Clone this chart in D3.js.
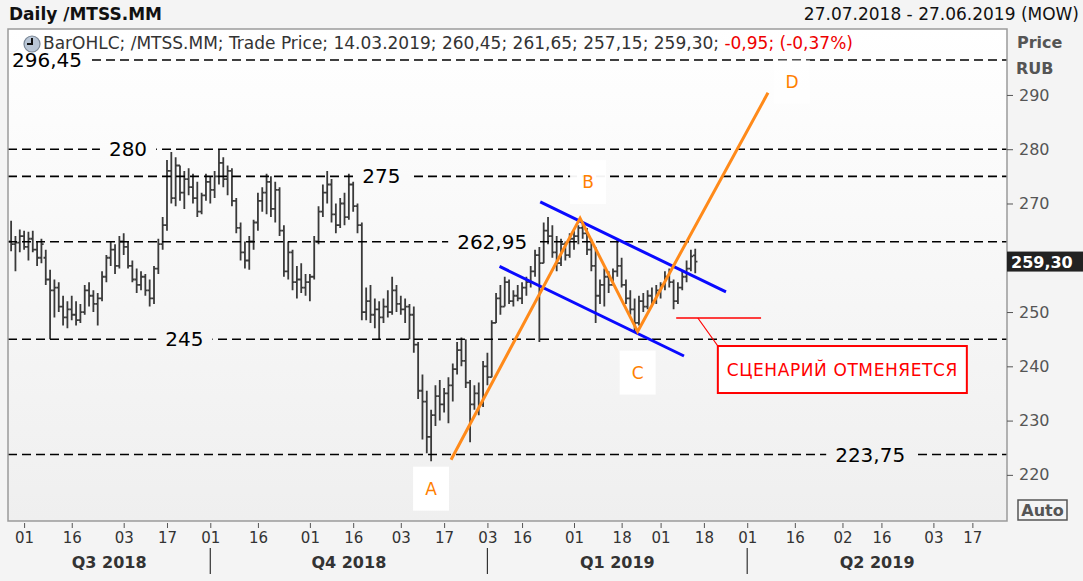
<!DOCTYPE html>
<html>
<head>
<meta charset="utf-8">
<script src="https://cdn.jsdelivr.net/npm/d3@7"></script>
<style>
body { margin: 0; background: #f4f4f4; }
svg { display: block; font-family: "DejaVu Sans", sans-serif; }
</style>
</head>
<body>
<div id="container"></div>
<script>
const START = "2018-07-27", END = "2019-06-27";
const HOLIDAYS = ["2018-11-05","2018-12-31","2019-01-01","2019-01-02","2019-01-07",
		  "2019-03-08","2019-05-01","2019-05-09","2019-06-12"];

// daily bars, one per trading day from 27.07.2018 to 14.03.2019
const OPEN = [263.0,262.5,262.8,264.0,262.0,263.5,261.5,260.0,260.0,256.0,
	254.0,254.5,251.0,249.0,250.5,249.5,248.5,250.0,254.0,253.0,
	251.5,252.5,256.5,260.0,261.5,258.5,263.0,262.0,258.5,256.0,
	255.0,256.5,254.0,252.5,258.0,262.5,266.0,276.0,271.0,277.0,
	272.0,274.5,273.0,271.0,268.5,271.5,274.0,272.5,275.0,277.5,
	274.5,276.0,270.5,265.5,261.0,259.5,263.0,266.5,270.5,272.0,
	274.0,269.0,272.5,265.0,257.5,261.0,255.5,256.0,254.5,255.5,
	256.5,263.0,268.5,272.0,273.5,268.0,266.0,270.0,267.5,273.5,
	269.5,266.0,250.0,252.0,249.5,250.5,249.0,251.0,250.0,254.0,
	251.5,250.5,251.0,249.5,244.0,235.5,233.5,227.0,231.0,234.5,
	233.0,235.0,236.5,239.5,243.0,241.0,237.0,233.0,235.0,233.0,
	240.0,238.0,248.0,252.5,251.0,255.5,252.0,253.0,252.5,254.5,
	255.5,257.5,260.5,259.0,265.0,264.0,261.0,259.0,262.5,260.5,
	263.5,264.0,265.5,264.5,261.5,258.5,253.0,255.0,256.5,255.0,
	257.5,258.5,255.0,252.5,250.5,248.0,252.0,251.0,253.0,252.0,
	254.0,255.0,256.5,255.5,252.0,254.5,256.5,258.0,260.45];
const HIGH = [266.8,264.0,265.2,265.0,264.8,265.0,263.0,263.5,261.5,257.8,
	256.0,255.5,253.0,252.0,253.0,252.0,251.5,255.0,255.5,254.0,
	253.5,257.5,260.5,263.0,262.5,264.0,264.5,263.0,259.5,258.0,
	257.5,257.0,256.0,258.5,263.5,267.5,278.0,279.5,278.5,277.0,
	276.0,276.5,275.5,274.0,272.0,275.5,275.0,276.0,280.0,278.5,
	277.0,276.5,271.0,266.5,263.0,264.0,267.0,272.0,273.0,275.5,
	275.0,274.0,273.0,266.0,263.0,261.5,258.5,259.0,257.0,257.0,
	264.0,269.5,273.5,276.0,274.5,270.0,271.0,272.0,275.5,274.0,
	270.0,266.5,254.5,255.0,252.5,252.0,252.5,254.0,256.5,255.0,
	253.0,252.5,251.5,251.0,244.5,238.5,235.5,232.0,236.5,237.5,
	236.0,238.0,240.5,244.5,245.3,245.0,237.5,236.5,237.0,241.0,
	242.5,248.5,253.5,255.0,256.5,256.0,254.0,255.0,255.5,256.5,
	258.5,261.5,262.0,266.5,267.5,266.0,264.0,263.5,263.0,264.5,
	265.0,266.0,266.5,265.5,263.5,262.0,256.0,258.0,257.5,258.0,
	263.5,260.0,256.0,254.0,252.5,253.0,253.5,254.0,254.5,255.0,
	255.5,257.5,258.0,256.0,255.5,257.5,259.5,261.5,261.65];
const LOW = [261.2,257.5,261.0,261.5,259.5,261.0,258.5,259.0,255.0,245.0,
	249.0,250.0,247.5,247.0,248.5,247.5,248.0,249.5,251.0,250.0,
	247.5,252.0,255.5,258.5,257.0,258.0,260.5,258.0,255.5,253.5,
	254.0,253.0,251.0,251.5,257.0,261.5,265.0,270.0,269.5,270.5,
	269.0,271.5,270.0,267.5,268.0,270.5,270.0,271.0,273.5,273.0,
	271.5,269.5,264.5,259.5,258.0,257.8,261.5,265.0,268.5,268.0,
	267.5,266.5,264.0,256.5,256.0,254.0,252.5,253.5,253.0,252.0,
	256.0,262.5,267.5,270.0,266.5,264.5,265.5,266.0,267.0,268.5,
	264.5,248.5,248.5,248.0,247.0,245.0,248.0,249.0,249.5,250.0,
	249.5,248.0,245.0,242.5,234.0,226.5,224.0,222.5,229.0,230.0,
	231.5,229.5,233.5,238.5,240.0,236.0,226.0,232.0,231.0,232.5,
	236.5,238.0,248.0,249.5,251.0,251.5,251.0,252.0,251.5,253.0,
	254.5,256.5,244.5,259.0,262.5,260.0,257.5,258.5,259.5,260.0,
	261.5,262.5,263.5,260.5,257.5,248.0,251.5,251.0,253.5,255.0,
	256.5,254.5,251.5,249.5,246.5,247.5,250.0,250.5,251.0,251.5,
	252.5,254.0,254.5,250.5,251.5,254.0,255.5,257.5,257.15];
const CLOSE = [262.5,262.8,264.0,262.0,263.5,261.5,260.0,262.5,256.0,254.0,
	254.5,251.0,249.0,250.5,249.5,248.5,250.0,254.0,253.0,251.5,
	252.5,256.5,260.0,261.5,258.5,263.0,262.0,258.5,256.0,255.0,
	256.5,254.0,252.5,258.0,262.5,266.0,276.0,271.0,277.0,272.0,
	274.5,273.0,271.0,268.5,271.5,274.0,272.5,275.0,277.5,274.5,
	276.0,270.5,265.5,261.0,259.5,263.0,266.5,270.5,272.0,274.0,
	269.0,272.5,265.0,257.5,261.0,255.5,256.0,254.5,255.5,256.5,
	263.0,268.5,272.0,273.5,268.0,266.0,270.0,267.5,273.5,269.5,
	266.0,250.0,252.0,249.5,250.5,249.0,251.0,250.0,254.0,251.5,
	250.5,251.0,249.5,244.0,235.5,233.5,227.0,231.0,234.5,233.0,
	235.0,236.5,239.5,243.0,241.0,237.0,233.0,235.0,233.0,240.0,
	238.0,248.0,252.5,251.0,255.5,252.0,253.0,252.5,254.5,255.5,
	257.5,260.5,259.0,265.0,264.0,261.0,259.0,262.5,260.5,263.5,
	264.0,265.5,264.5,261.5,258.5,253.0,255.0,256.5,255.0,257.5,
	258.5,255.0,252.5,250.5,248.0,252.0,251.0,253.0,252.0,254.0,
	255.0,256.5,255.5,252.0,254.5,256.5,258.0,260.25,259.30];

const LEVELS = [296.45, 280, 275, 262.95, 245, 223.75];
const LEVEL_TEXT = ["296,45", "280", "275", "262,95", "245", "223,75"];
const LEVEL_AT = [0, 27, 85.5, 111.1, 40, 198.4];   // trading-day index of label centre

const WAVE_NAMES = ["A", "B", "C", "D"];
const WAVE_AT = [101.6, 131.4, 144.7, 174.8];
const WAVE_PRICE = [222.8, 267.3, 246.4, 290.4];

const CH_UP_AT = [122.2, 165.1], CH_UP_PRICE = [270.3, 253.7];
const CH_DN_AT = [112.8, 155.4], CH_DN_PRICE = [258.4, 241.9];

const STOP_PRICE = 248.9, STOP_AT = [153.6, 173.2], STOP_LEAD = 158.6;
const STOP_TEXT = "СЦЕНАРИЙ ОТМЕНЯЕТСЯ";

// 260 sits under the last-price marker, so it is not labelled
const Y_TICKS = [220, 230, 240, 250, 270, 280, 290];
const X_TICKS = ["2018-08-01","2018-08-16","2018-09-03","2018-09-17","2018-10-01","2018-10-16",
		 "2018-11-01","2018-11-16","2018-12-03","2018-12-17","2019-01-03","2019-01-16",
		 "2019-02-01","2019-02-18","2019-03-01","2019-03-18","2019-04-01","2019-04-16",
		 "2019-05-02","2019-05-16","2019-06-03","2019-06-17"];
const QUARTERS = ["Q3 2018", "Q4 2018", "Q1 2019", "Q2 2019"];
const QUARTER_STARTS = ["2018-10-01", "2019-01-03", "2019-04-01"];

var W = 1083, H = 581;
var L = 8, R = 1007, T = 29, B = 521;

var parse = d3.utcParse("%Y-%m-%d");
var fmt = d3.utcFormat("%Y-%m-%d");

var days = d3.utcDay.range(parse(START), d3.utcDay.offset(parse(END), 1))
    .filter(function(d){
	return d.getUTCDay() % 6 !== 0 && HOLIDAYS.indexOf(fmt(d)) < 0;
    });
var dayIndex = new Map(days.map(function(d, i){ return [fmt(d), i]; }));

var x = d3.scaleLinear().domain([-0.72, days.length - 1]).range([L, R]);
var y = d3.scaleLinear().domain([211.5, 302.15]).range([B, T]);
var bgAt = function(py){ return d3.interpolateRgb("#ffffff", "#efefef")((py - T) / (B - T)); };

var svg = d3.select("#container").append("svg")
    .attr("width", W).attr("height", H);

var defs = svg.append("defs");
var grad = defs.append("linearGradient").attr("id", "bg")
    .attr("x1", 0).attr("y1", 0).attr("x2", 0).attr("y2", 1);
grad.append("stop").attr("offset", 0).attr("stop-color", "#ffffff");
grad.append("stop").attr("offset", 1).attr("stop-color", "#efefef");
defs.append("clipPath").attr("id", "clip")
    .append("rect").attr("x", L).attr("y", T).attr("width", R - L).attr("height", B - T);

svg.append("rect").attr("width", W).attr("height", H).attr("fill", "#f4f4f4");
svg.append("rect").attr("x", L).attr("y", T).attr("width", R - L).attr("height", B - T)
    .attr("fill", "url(#bg)");

var plot = svg.append("g").attr("clip-path", "url(#clip)");

// bars
var bars = OPEN.map(function(o, i){
    return { i: i, o: o, h: HIGH[i], l: LOW[i], c: CLOSE[i] };
});
plot.append("g").selectAll("path")
    .data(bars)
    .enter()
    .append("path")
    .attr("d", function(d){
	var px = x(d.i);
	return "M" + px + "," + y(d.h) + "V" + y(d.l)
	    + "M" + (px - 2.2) + "," + y(d.o) + "H" + px
	    + "M" + px + "," + y(d.c) + "H" + (px + 2.2);
    })
    .attr("fill", "none")
    .attr("stroke", "#3a3a3a")
    .attr("stroke-width", 1.8);

// dashed levels
plot.append("g").selectAll("line")
    .data(LEVELS)
    .enter()
    .append("line")
    .attr("x1", L).attr("x2", R)
    .attr("y1", function(v){ return y(v); })
    .attr("y2", function(v){ return y(v); })
    .attr("stroke", "#000")
    .attr("stroke-width", 1.6)
    .attr("stroke-dasharray", "9,5");

var lvl = plot.append("g").selectAll("g")
    .data(LEVELS)
    .enter()
    .append("g");
lvl.append("rect");
lvl.append("text")
    .attr("x", function(v, i){ return i === 0 ? L + 4 : x(LEVEL_AT[i]); })
    .attr("y", function(v){ return y(v) + 7; })
    .attr("text-anchor", function(v, i){ return i === 0 ? "start" : "middle"; })
    .attr("font-size", 20)
    .attr("fill", "#000")
    .text(function(v, i){ return LEVEL_TEXT[i]; });
lvl.each(function(v){
    var g = d3.select(this);
    var bb = g.select("text").node().getBBox();
    g.select("rect")
	.attr("x", bb.x - 9).attr("width", bb.width + 18)
	.attr("y", y(v) - 3).attr("height", 6)
	.attr("fill", bgAt(y(v)));
});

// channel
var line = d3.line().x(function(d){ return x(d[0]); }).y(function(d){ return y(d[1]); });
[[CH_UP_AT, CH_UP_PRICE], [CH_DN_AT, CH_DN_PRICE]].forEach(function(c){
    plot.append("path")
	.attr("d", line(d3.zip(c[0], c[1])))
	.attr("stroke", "#0a0aff")
	.attr("stroke-width", 3)
	.attr("fill", "none");
});

// wave A-B-C-D
plot.append("path")
    .attr("d", line(d3.zip(WAVE_AT, WAVE_PRICE)))
    .attr("stroke", "#ff8a1a")
    .attr("stroke-width", 3)
    .attr("fill", "none");

var OFFS = [[-20, 29], [8, -36], [0, 41], [24, -11]];
var wl = plot.append("g").selectAll("g")
    .data(WAVE_NAMES)
    .enter()
    .append("g")
    .attr("transform", function(n, i){
	return "translate(" + (x(WAVE_AT[i]) + OFFS[i][0]) + "," + (y(WAVE_PRICE[i]) + OFFS[i][1]) + ")";
    });
wl.append("rect")
    .attr("x", -18).attr("y", -22).attr("width", 36).attr("height", 44)
    .attr("fill", "#ffffff").attr("opacity", function(n, i){ return i === 3 ? 0.5 : 0.95; });
wl.append("text")
    .attr("text-anchor", "middle").attr("y", 6)
    .attr("font-size", 17).attr("fill", "#ff8000")
    .text(function(n){ return n; });

// invalidation note
var sy = y(STOP_PRICE);
plot.append("line")
    .attr("x1", x(STOP_AT[0])).attr("x2", x(STOP_AT[1]))
    .attr("y1", sy).attr("y2", sy)
    .attr("stroke", "#ff0000").attr("stroke-width", 1.5);
var bx = x(STOP_LEAD) + 20, by = sy + 28;
plot.append("line")
    .attr("x1", x(STOP_LEAD)).attr("y1", sy).attr("x2", bx).attr("y2", by)
    .attr("stroke", "#ff0000").attr("stroke-width", 1.2);
plot.append("rect")
    .attr("x", bx).attr("y", by).attr("width", 249).attr("height", 47)
    .attr("fill", "#ffffff").attr("stroke", "#ff0000").attr("stroke-width", 2);
plot.append("text")
    .attr("x", bx + 124.5).attr("y", by + 30)
    .attr("text-anchor", "middle")
    .attr("font-size", 17).attr("letter-spacing", 0.6)
    .attr("fill", "#ff0000")
    .text(STOP_TEXT);

// legend line
var leg = svg.append("g");
leg.append("circle").attr("cx", 32).attr("cy", 44).attr("r", 8)
    .attr("fill", "#b9c6d6").attr("stroke", "#7a8796").attr("stroke-width", 1.2);
leg.append("path").attr("d", "M32,38V44H27").attr("stroke", "#111").attr("stroke-width", 2).attr("fill", "none");
var lt = leg.append("text").attr("x", 43).attr("y", 49).attr("font-size", 17).attr("fill", "#333");
lt.append("tspan").text("BarOHLC; /MTSS.MM; Trade Price; 14.03.2019; 260,45; 261,65; 257,15; 259,30; ");
lt.append("tspan").attr("fill", "#ee0000").text("-0,95; (-0,37%)");

// frame
svg.append("rect").attr("x", L).attr("y", T).attr("width", R - L).attr("height", B - T)
    .attr("fill", "none").attr("stroke", "#9a9a9a").attr("stroke-width", 1.5);

// header
svg.append("text").attr("x", 9).attr("y", 20)
    .attr("font-size", 17).attr("font-weight", "bold").attr("fill", "#111")
    .text("Daily /MTSS.MM");
svg.append("text").attr("x", 1079).attr("y", 20).attr("text-anchor", "end")
    .attr("font-size", 17).attr("fill", "#111")
    .text("27.07.2018 - 27.06.2019 (MOW)");

// right axis
var ya = svg.append("g").attr("transform", "translate(" + R + ",0)")
    .call(d3.axisRight(y).tickValues(Y_TICKS).tickSize(6).tickPadding(6));
ya.select(".domain").remove();
ya.selectAll("line").attr("stroke", "#555");
ya.selectAll("text").attr("font-size", 16).attr("fill", "#555").attr("font-family", "DejaVu Sans");

svg.append("text").attr("x", 1017).attr("y", 48).attr("font-size", 16).attr("font-weight", "bold")
    .attr("fill", "#555").text("Price");
svg.append("text").attr("x", 1016).attr("y", 74).attr("font-size", 16).attr("font-weight", "bold")
    .attr("fill", "#555").text("RUB");

var last = CLOSE[CLOSE.length - 1];
svg.append("rect").attr("x", R).attr("y", y(last) - 10).attr("width", W - R).attr("height", 20)
    .attr("fill", "#222");
svg.append("text").attr("x", R + 4).attr("y", y(last) + 6)
    .attr("font-size", 16).attr("font-weight", "bold").attr("fill", "#fff")
    .text(d3.format(".2f")(last).replace(".", ","));

svg.append("rect").attr("x", 1018).attr("y", 500).attr("width", 49).attr("height", 20)
    .attr("fill", "none").attr("stroke", "#555").attr("stroke-width", 1.5);
svg.append("text").attr("x", 1042.5).attr("y", 516).attr("text-anchor", "middle")
    .attr("font-size", 16).attr("font-weight", "bold").attr("fill", "#555").text("Auto");

// bottom axis
var xa = svg.append("g").attr("transform", "translate(0," + B + ")")
    .call(d3.axisBottom(x)
	  .tickValues(X_TICKS.map(function(d){ return dayIndex.get(d); }))
	  .tickFormat(function(i){ return d3.utcFormat("%d")(days[i]); })
	  .tickSize(5).tickPadding(6));
xa.select(".domain").remove();
xa.selectAll("line").attr("stroke", "#555").attr("transform", "translate(0,2)");
xa.selectAll("text").attr("font-size", 15).attr("fill", "#333").attr("font-family", "DejaVu Sans");

var qx = [L].concat(QUARTER_STARTS.map(function(d){ return x(dayIndex.get(d)); }), [R]);
svg.append("g").selectAll("line")
    .data(QUARTER_STARTS)
    .enter()
    .append("line")
    .attr("x1", function(d){ return x(dayIndex.get(d)); })
    .attr("x2", function(d){ return x(dayIndex.get(d)); })
    .attr("y1", 548).attr("y2", 574)
    .attr("stroke", "#333").attr("stroke-width", 1.2);
svg.append("g").selectAll("text")
    .data(QUARTERS)
    .enter()
    .append("text")
    .attr("x", function(q, i){ return (qx[i] + qx[i + 1]) / 2; })
    .attr("y", 568)
    .attr("text-anchor", "middle")
    .attr("font-size", 16).attr("font-weight", "bold").attr("fill", "#333")
    .text(function(q){ return q; });
</script>
</body>
</html>
